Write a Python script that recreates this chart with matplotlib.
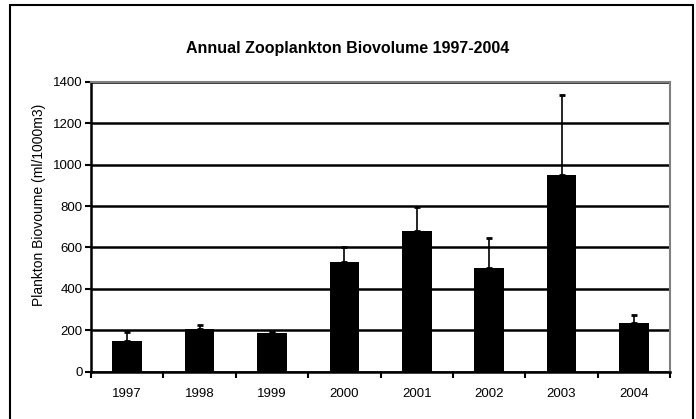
import matplotlib.pyplot as plt
from matplotlib.patches import Rectangle
import numpy as np

years = ['1997', '1998', '1999', '2000', '2001', '2002', '2003', '2004']
biovolume = [148, 205, 185, 528, 679, 499, 948, 234]
errors = [45, 20, 11, 72, 114, 145, 388, 40]

plt.rcParams['font.family'] = ['Liberation Sans', 'DejaVu Sans']

fig = plt.figure(figsize=(6.96, 4.19), dpi=100)
ax = fig.add_axes([0.1308, 0.1129, 0.832, 0.692])

x = np.arange(len(years))
ax.bar(x, biovolume, width=0.41, color='black', zorder=3)
ax.errorbar(x, biovolume, yerr=[np.zeros(len(errors)), errors], fmt='none',
            ecolor='black', elinewidth=1.2, capsize=2, capthick=2, zorder=2)

ax.set_xlim(-0.5, len(years) - 0.5)
ax.set_ylim(0, 1400)
ax.set_yticks(range(0, 1401, 200))
ax.set_xticks(x)
ax.set_xticklabels(years, fontsize=9.5)
ax.set_xticks(np.arange(len(years) + 1) - 0.5, minor=True)
ax.tick_params(axis='x', which='major', length=0, pad=12)
ax.tick_params(axis='x', which='minor', length=4, width=1.5, direction='out')
ax.tick_params(axis='y', length=4, width=1.5, direction='out', labelsize=9.5, pad=2)

ax.grid(axis='y', color='black', linewidth=1.8, zorder=1)
ax.spines['left'].set_linewidth(1.8)
ax.spines['bottom'].set_linewidth(1.8)
ax.spines['top'].set_color('#808080')
ax.spines['right'].set_color('#808080')
ax.spines['top'].set_linewidth(1.5)
ax.spines['right'].set_linewidth(1.5)

ax.set_ylabel('Plankton Biovoume (ml/1000m3)', fontsize=10)
ax.yaxis.set_label_coords(-0.077, 0.575)
fig.text(0.5, 0.885, 'Annual Zooplankton Biovolume 1997-2004', ha='center',
         va='center', fontsize=11.5, fontweight='bold')

fig.patches.append(Rectangle((10 / 696, -0.05), 683 / 696, 1 - 5 / 419 + 0.05,
                             transform=fig.transFigure, fill=False,
                             edgecolor='black', linewidth=1.5))

fig.savefig('out.png', dpi=100)
